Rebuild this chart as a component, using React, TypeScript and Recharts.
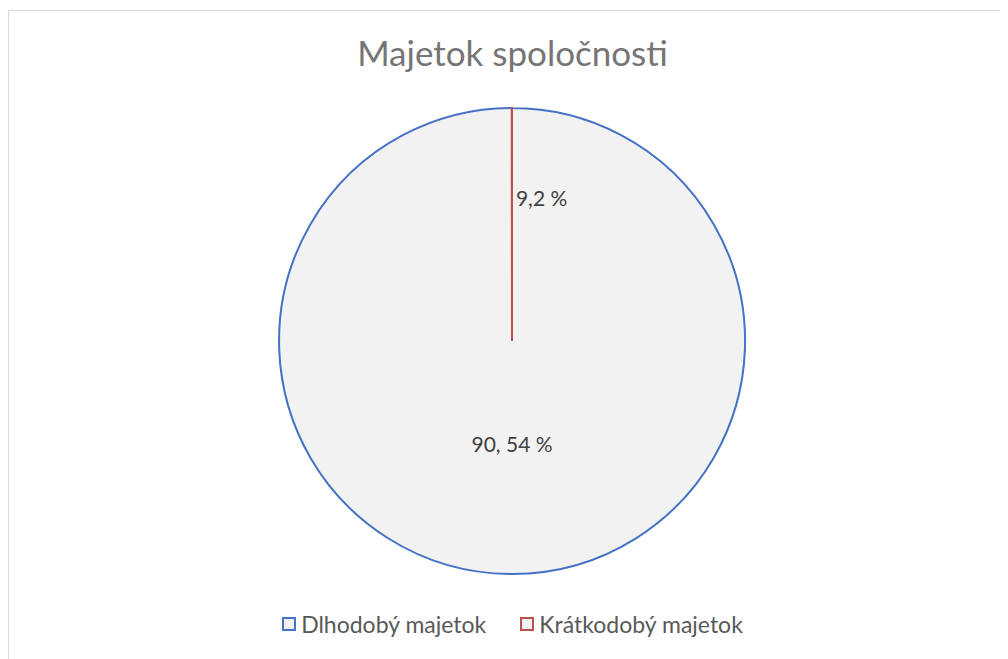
import { Pie, PieChart, Cell, Legend } from "recharts";

const title = "Majetok spoločnosti";
const categories = ["Dlhodobý majetok", "Krátkodobý majetok"];
// the short-term slice is drawn as a hairline in the original
const values = [90.54, 0.01];
const labelTexts = ["90, 54 %", "9,2 %"];

const strokeColors = ["#4472C4", "#C0504D"];
const sliceFill = "#F2F2F2";
const font = "Lato, 'Open Sans', sans-serif";

const data = categories.map((name, i) => ({
  name,
  value: values[i],
  label: labelTexts[i],
}));

const RAD = Math.PI / 180;

function renderLabel(props: any) {
  const { cx, cy, midAngle, outerRadius, index } = props;
  const frac = index === 0 ? 0.44 : 0.615;
  const r = outerRadius * frac;
  const x = cx + r * Math.cos(-midAngle * RAD);
  const y = cy + r * Math.sin(-midAngle * RAD);
  return (
    <text
      x={index === 0 ? x : x + 4}
      y={y}
      fill="#404040"
      fontSize={21}
      fontFamily={font}
      textAnchor={index === 0 ? "middle" : "start"}
      dominantBaseline="central"
    >
      {labelTexts[index]}
    </text>
  );
}

function LegendContent() {
  return (
    <div
      style={{
        display: "flex",
        justifyContent: "center",
        gap: 34,
        fontFamily: font,
        fontSize: 23,
        color: "#595959",
      }}
    >
      {categories.map((c, i) => (
        <div key={c} style={{ display: "flex", alignItems: "center", gap: 5 }}>
          <span
            style={{
              display: "inline-block",
              width: 14,
              height: 14,
              background: sliceFill,
              border: `2px solid ${strokeColors[i]}`,
              boxSizing: "border-box",
            }}
          />
          <span>{c}</span>
        </div>
      ))}
    </div>
  );
}

export default function App() {
  return (
    <div
      style={{
        position: "relative",
        marginTop: 2,
        width: 1010,
        height: 660,
        border: "1px solid #D9D9D9",
        background: "#fff",
        boxSizing: "border-box",
      }}
    >
      <div
        style={{
          position: "absolute",
          left: 0,
          top: 20,
          width: 1007,
          textAlign: "center",
          fontFamily: font,
          fontSize: 35,
          color: "#757575",
        }}
      >
        {title}
      </div>
      <PieChart
        width={1007}
        height={650}
        margin={{ top: 0, right: 0, bottom: 0, left: 0 }}
      >
        <Pie
          data={data}
          dataKey="value"
          nameKey="name"
          cx={503}
          cy={330}
          outerRadius={233}
          startAngle={90}
          endAngle={-270}
          isAnimationActive={false}
          label={renderLabel}
          labelLine={false}
        >
          {data.map((d, i) => (
            <Cell key={d.name} fill={sliceFill} stroke={strokeColors[i]} strokeWidth={2} />
          ))}
        </Pie>
        <Legend
          verticalAlign="bottom"
          wrapperStyle={{ bottom: 23 }}
          content={<LegendContent />}
        />
      </PieChart>
    </div>
  );
}
